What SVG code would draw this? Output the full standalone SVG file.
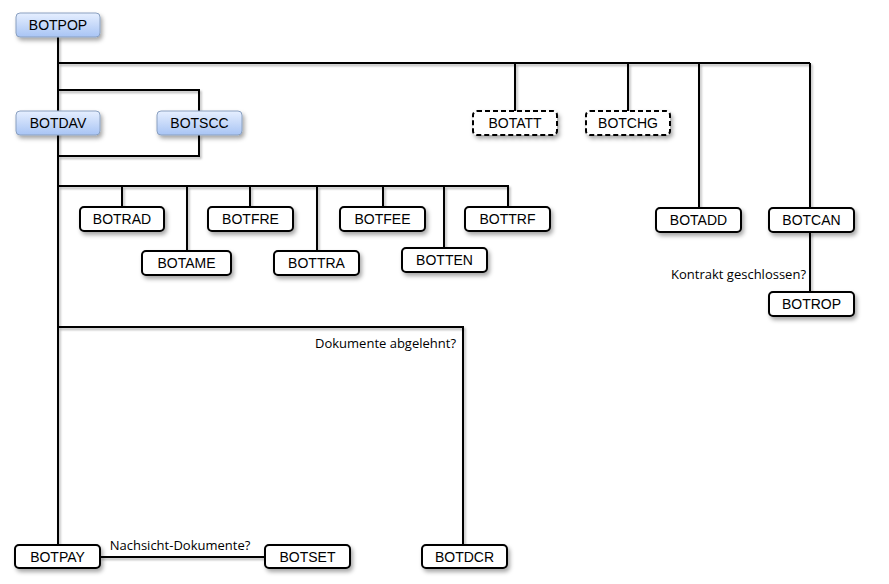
<svg xmlns="http://www.w3.org/2000/svg" width="889" height="584" viewBox="0 0 889 584">
<defs>
<linearGradient id="blue" x1="0" y1="0" x2="0" y2="1">
<stop offset="0" stop-color="#e6efff"/>
<stop offset="1" stop-color="#a8c4f4"/>
</linearGradient>
<filter id="sh" x="-20%" y="-30%" width="150%" height="180%">
<feDropShadow dx="2" dy="3" stdDeviation="2" flood-color="#000" flood-opacity="0.35"/>
</filter>
<filter id="lsh" filterUnits="userSpaceOnUse" x="0" y="0" width="889" height="584">
<feDropShadow dx="1.5" dy="2" stdDeviation="1.2" flood-color="#000" flood-opacity="0.3"/>
</filter>
</defs>
<style>
.n rect{fill:#fff;stroke:#000;stroke-width:2;filter:url(#sh)}
.n.b rect{fill:url(#blue);stroke:#8aa0c0;stroke-width:1}
.n.d rect{stroke-dasharray:5 3}
.n text{font-family:"Liberation Sans",Arial,sans-serif;font-size:14px;fill:#000;text-anchor:middle}
.c{filter:url(#lsh)}
.c path{fill:none;stroke:#000;stroke-width:2}
.l{font-family:"Open Sans","Liberation Sans",sans-serif;font-size:13px;fill:#000}
</style>
<rect width="889" height="584" fill="#fff"/>
<g class="c">
<path d="M58 37V545"/>
<path d="M58 63H810"/>
<path d="M515 63V111M628 63V111M699 63V208M810 63V208"/>
<path d="M58 90H199V111"/>
<path d="M199 135V156H58"/>
<path d="M58 186H508V207"/>
<path d="M122 186V207M187 186V251M250 186V207M317 186V251M383 186V207M444 186V248"/>
<path d="M810 232V292"/>
<path d="M58 327H463V545"/>
<path d="M100 557H265"/>
</g>
<g id="BOTPOP" class="n b"><rect x="16" y="13" width="84" height="24" rx="4"/><text x="58" y="30">BOTPOP</text></g>
<g id="BOTDAV" class="n b"><rect x="16" y="111" width="84" height="24" rx="4"/><text x="58" y="128">BOTDAV</text></g>
<g id="BOTSCC" class="n b"><rect x="157" y="111" width="85" height="24" rx="4"/><text x="199.5" y="128">BOTSCC</text></g>
<g id="BOTATT" class="n d"><rect x="473" y="111" width="84" height="24" rx="4"/><text x="515" y="128">BOTATT</text></g>
<g id="BOTCHG" class="n d"><rect x="586" y="111" width="84" height="24" rx="4"/><text x="628" y="128">BOTCHG</text></g>
<g id="BOTADD" class="n"><rect x="656" y="208" width="85" height="24" rx="4"/><text x="698.5" y="225">BOTADD</text></g>
<g id="BOTCAN" class="n"><rect x="769" y="208" width="85" height="24" rx="4"/><text x="811.5" y="225">BOTCAN</text></g>
<g id="BOTROP" class="n"><rect x="769" y="292" width="85" height="24" rx="4"/><text x="811.5" y="309">BOTROP</text></g>
<g id="BOTRAD" class="n"><rect x="80" y="207" width="84" height="24" rx="4"/><text x="122" y="224">BOTRAD</text></g>
<g id="BOTAME" class="n"><rect x="142" y="251" width="89" height="24" rx="4"/><text x="186.5" y="268">BOTAME</text></g>
<g id="BOTFRE" class="n"><rect x="208" y="207" width="85" height="24" rx="4"/><text x="250.5" y="224">BOTFRE</text></g>
<g id="BOTTRA" class="n"><rect x="274" y="251" width="85" height="24" rx="4"/><text x="316.5" y="268">BOTTRA</text></g>
<g id="BOTFEE" class="n"><rect x="340" y="207" width="85" height="24" rx="4"/><text x="382.5" y="224">BOTFEE</text></g>
<g id="BOTTEN" class="n"><rect x="402" y="248" width="85" height="24" rx="4"/><text x="444.5" y="265">BOTTEN</text></g>
<g id="BOTTRF" class="n"><rect x="465" y="207" width="85" height="24" rx="4"/><text x="507.5" y="224">BOTTRF</text></g>
<g id="BOTPAY" class="n"><rect x="15" y="545" width="85" height="23" rx="4"/><text x="57.5" y="562">BOTPAY</text></g>
<g id="BOTSET" class="n"><rect x="265" y="545" width="85" height="23" rx="4"/><text x="307.5" y="562">BOTSET</text></g>
<g id="BOTDCR" class="n"><rect x="422" y="545" width="85" height="23" rx="4"/><text x="464.5" y="562">BOTDCR</text></g>
<text class="l" x="806" y="279" text-anchor="end">Kontrakt geschlossen?</text>
<text class="l" x="456" y="348" text-anchor="end">Dokumente abgelehnt?</text>
<text class="l" x="180" y="550" text-anchor="middle">Nachsicht-Dokumente?</text>
</svg>
